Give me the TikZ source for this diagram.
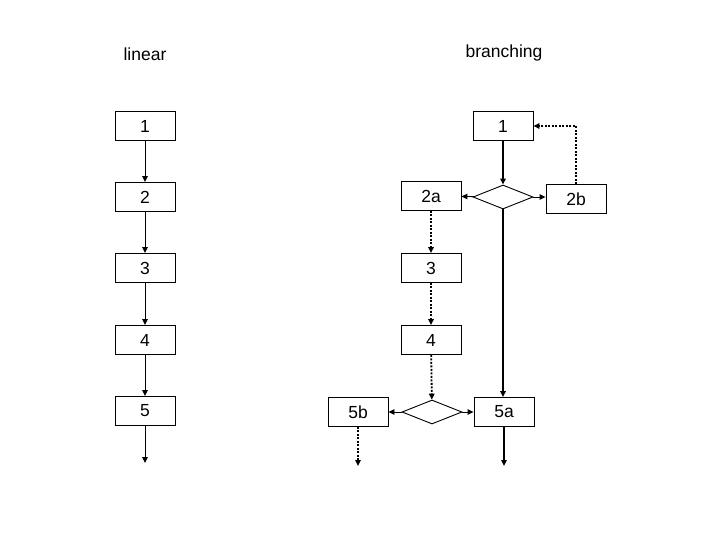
\documentclass[tikz,border=0pt]{standalone}
\usepackage{fontspec}
\setmainfont{Liberation Sans}
\usetikzlibrary{arrows.meta,shapes.geometric}

\begin{document}
\begin{tikzpicture}[line cap=butt,line join=miter,>={Triangle[length=6pt,width=5.5pt]},x=1pt,y=-1pt,
	box/.style={draw,line width=0.9pt,minimum width=60pt,minimum height=29pt,inner sep=0pt,font=\fontsize{17.5}{20}\selectfont},
	choice/.style={draw,diamond,aspect=2.5,line width=0.9pt,minimum width=60pt,minimum height=24pt,inner sep=0pt},
	thin/.style={line width=0.9pt,->},
	thick/.style={line width=1.8pt,->},
	dots/.style={line width=1.8pt,dash pattern=on 2pt off 1.5pt,->}]
	\useasboundingbox (0,0) rectangle (720,540);
	% linear
	\node[font=\fontsize{17.5}{20}\selectfont] (tlin) at (145,54) {linear};
	\node[box] (l1) at (145,126) {1};
	\node[box] (l2) at (145,197) {2};
	\node[box] (l3) at (145,268) {3};
	\node[box] (l4) at (145,340) {4};
	\node[box] (l5) at (145,411) {5};
	\coordinate (lend) at (145,463);
	\draw[thin] (l1) -- (l2);
	\draw[thin] (l2) -- (l3);
	\draw[thin] (l3) -- (l4);
	\draw[thin] (l4) -- (l5);
	\draw[thin] (l5) -- (lend);
	% branching
	\node[font=\fontsize{17.5}{20}\selectfont] (tbr) at (504,53) {branching};
	\node[box] (b1) at (503,126) {1};
	\node[choice] (d1) at (503,197) {};
	\node[box] (b2a) at (431,196) {2a};
	\node[box] (b2b) at (576,199) {2b};
	\node[box] (b3) at (431,268) {3};
	\node[box] (b4) at (431,340) {4};
	\node[choice] (d2) at (432,412) {};
	\node[box] (b5b) at (358,412) {5b};
	\node[box] (b5a) at (504,412) {5a};
	\coordinate (bend) at (504,466);
	\coordinate (cend) at (358,466);
	\draw[thick] (b1) -- (d1);
	\draw[thin] (d1) -- (b2a);
	\draw[thin] (d1.east) -- (b2b.west |- d1.east);
	\draw[dots] (b2b.north) |- (b1.east);
	\draw[thick] (d1.south) -- (b5a.north -| d1.south);
	\draw[dots] (b2a) -- (b3);
	\draw[dots] (b3) -- (b4);
	\draw[dots] (b4) -- (d2);
	\draw[thin] (d2) -- (b5b);
	\draw[thin] (d2) -- (b5a);
	\draw[dots] (b5b) -- (cend);
	\draw[thick] (b5a) -- (bend);
\end{tikzpicture}
\end{document}
